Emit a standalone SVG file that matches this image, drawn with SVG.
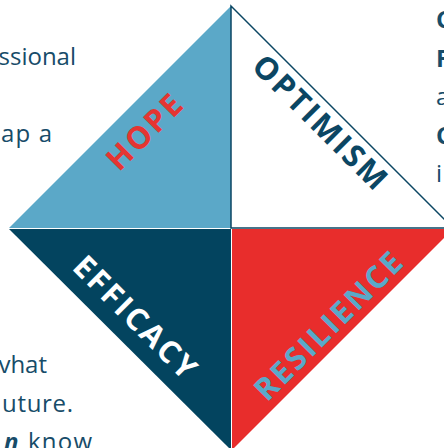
<svg xmlns="http://www.w3.org/2000/svg" width="444" height="448" viewBox="0 0 444 448">
<style>
.body{font-family:"Open Sans","Liberation Sans",sans-serif;font-size:24px;fill:#174c69}
.b{font-weight:bold}
.lbl{font-family:"Open Sans","Liberation Sans",sans-serif;font-size:31px;font-weight:bold;letter-spacing:2.5px;text-anchor:middle}
</style>
<rect width="444" height="448" fill="#ffffff"/>
<g id="text-left" class="body">
<text x="76" y="65" text-anchor="end">ssional</text>
<text x="1" y="142" textLength="51" lengthAdjust="spacing">ap a</text>
<text x="47" y="373" text-anchor="end">vhat</text>
<text x="2" y="411.5" textLength="71" lengthAdjust="spacing">uture.</text>
<text x="4" y="450" class="b" font-style="italic">n</text>
<text x="28" y="450" textLength="64" lengthAdjust="spacing">know</text>
</g>
<g id="text-right" class="body">
<text x="436" y="28" class="b">C</text>
<text x="436" y="66.5" class="b">F</text>
<text x="436" y="105">a</text>
<text x="436" y="143.5" class="b">C</text>
<text x="436" y="182">i</text>
</g>
<g id="hope">
<polygon points="231,6 9,228 231,228" fill="#5ba8c8"/>
<text class="lbl" fill="#e53532" transform="translate(145,131) rotate(-45)" y="11">HOPE</text>
</g>
<g id="optimism">
<polygon points="231,6 231,228 453,228" fill="#ffffff" stroke="#0b4663" stroke-width="1.5"/>
<text class="lbl" fill="#0b4663" transform="translate(321,123) rotate(45)" y="11">OPTIMISM</text>
</g>
<g id="efficacy">
<polygon points="9,229 231,229 231,450" fill="#03445f"/>
<text class="lbl" fill="#ffffff" transform="translate(136,318) rotate(45)" y="11">EFFICACY</text>
</g>
<g id="resilience">
<polygon points="232,229 453,229 232,450" fill="#e82d2c"/>
<text class="lbl" fill="#5aa9c9" transform="translate(329,325) rotate(-45)" y="11">RESILIENCE</text>
</g>
<g id="connectors"/>
</svg>
